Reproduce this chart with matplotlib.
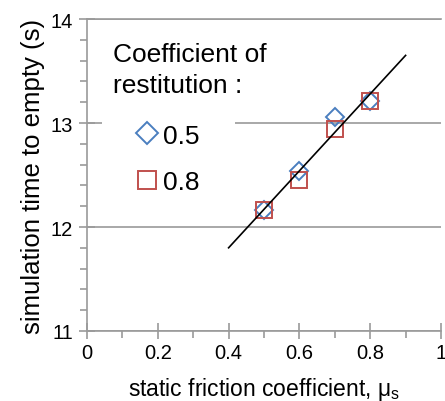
import numpy as np
import matplotlib.pyplot as plt
from matplotlib.ticker import MultipleLocator
from matplotlib.lines import Line2D
from matplotlib.patches import Rectangle

plt.rcParams['font.family'] = ['Liberation Sans', 'DejaVu Sans']

# static friction coefficient vs simulated emptying time
mu_s = [0.5, 0.6, 0.7, 0.8]
t_e05 = [12.16, 12.54, 13.06, 13.21]   # restitution 0.5
t_e08 = [12.16, 12.45, 12.94, 13.21]   # restitution 0.8

# linear trend line
fit_slope = 3.7
fit_icpt = 10.32
fit_x = [0.4, 0.9]

xticks = [0, 0.2, 0.4, 0.6, 0.8, 1.0]
xticklabels = ['0', '0.2', '0.4', '0.6', '0.8', '1']
yticks = [11, 12, 13, 14]

blue = '#4a7ebf'
red = '#c0504d'
grey = '#9a9a9a'

fig = plt.figure(figsize=(4.45, 4.02), dpi=100)
ax = fig.add_axes([87/445, 70/402, 354/445, 312/402])

ax.plot(mu_s, t_e05, 'D', ms=9, mfc='none', mec=blue, mew=1.4, zorder=3)
ax.plot(mu_s, t_e08, 's', ms=12, mfc='none', mec=red, mew=1.4, zorder=3)
fx = np.array(fit_x)
ax.plot(fx, fit_icpt + fit_slope*fx, color='black', lw=1.2, zorder=4)

ax.set_xlim(0, 1)
ax.set_ylim(11, 14)
ax.set_xticks(xticks)
ax.set_xticklabels(xticklabels)
ax.set_yticks(yticks)
ax.set_yticklabels([str(v) for v in yticks])
ax.xaxis.set_minor_locator(MultipleLocator(0.1))
ax.yaxis.set_minor_locator(MultipleLocator(0.2))

ax.tick_params(which='major', direction='inout', length=12, width=1.2,
               color=grey, labelsize=14.5)
ax.tick_params(axis='x', which='major', pad=3)
ax.tick_params(axis='y', which='major', pad=4)
ax.tick_params(which='minor', direction='out', length=5,
               width=1.2, color=grey)

ax.grid(axis='y', which='major', color=grey, lw=1.2)
for s in ['left', 'bottom', 'top']:
    ax.spines[s].set_color(grey)
    ax.spines[s].set_linewidth(1.2)
ax.spines['right'].set_visible(False)

ax.set_xlabel('static friction coefficient, $\\mathregular{\\mu_s}$',
              fontsize=16.5, labelpad=9)
ax.set_ylabel('simulation time to empty (s)', fontsize=18.5, labelpad=4)

# white patch behind the legend entries hides the 13 s gridline
ax.add_patch(Rectangle((0.042, 0.42), 0.376, 0.30, transform=ax.transAxes,
                       facecolor='white', edgecolor='none', zorder=2.5))

ax.text(0.0734, 0.765, 'Coefficient of\nrestitution :',
        transform=ax.transAxes, fontsize=19, va='baseline', ha='left',
        linespacing=1.4, zorder=6)

handles = [Line2D([], [], ls='none', marker='D', ms=11, mfc='none',
                  mec=blue, mew=1.4),
           Line2D([], [], ls='none', marker='s', ms=13, mfc='none',
                  mec=red, mew=1.4)]
leg = ax.legend(handles, ['0.5', '0.8'], loc='upper left',
                bbox_to_anchor=(0.1435, 0.665), fontsize=19, frameon=False,
                handlelength=0.7, handletextpad=0.25,
                labelspacing=0.87, borderpad=0, borderaxespad=0)
leg.set_zorder(5)

fig.savefig('out.png', dpi=100)
